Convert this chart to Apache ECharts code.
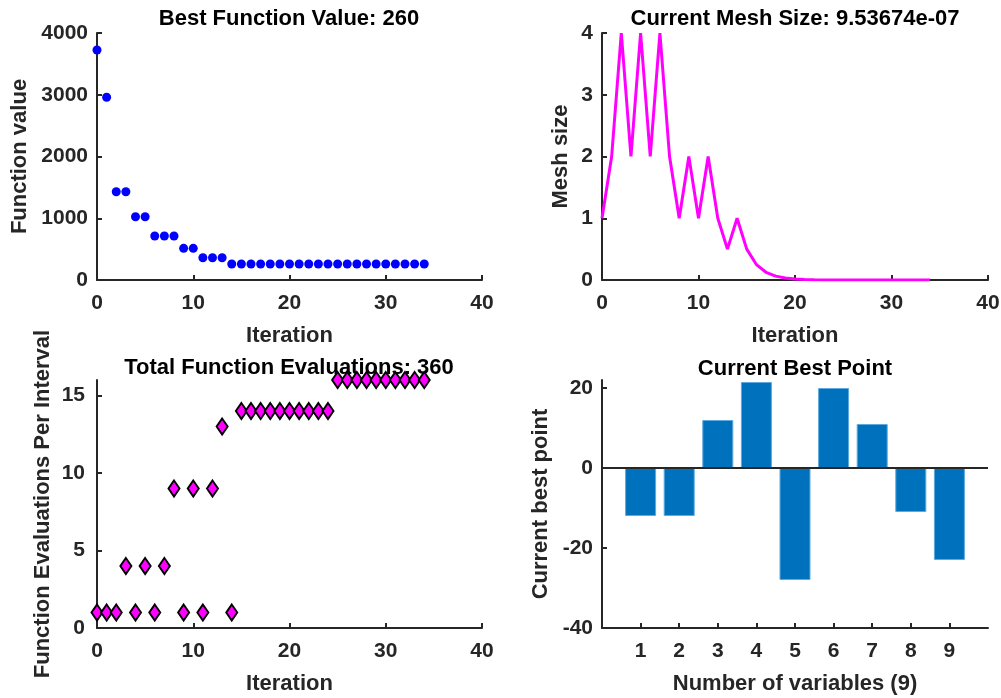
<!DOCTYPE html>
<html>
<head>
<meta charset="utf-8">
<script src="https://cdn.jsdelivr.net/npm/echarts@6/dist/echarts.min.js"></script>
<style>
  html, body { margin: 0; padding: 0; background: #fff; }
  #main { width: 1001px; height: 698px; }
</style>
</head>
<body>
<div id="main"></div>
<script>
// iterations 0..34
const iterations = [0, 1, 2, 3, 4, 5, 6, 7, 8, 9, 10, 11, 12, 13, 14, 15, 16, 17, 18, 19, 20,
  21, 22, 23, 24, 25, 26, 27, 28, 29, 30, 31, 32, 33, 34];
// best function value per iteration
const bestValues = [3725, 2960, 1430, 1430, 1025, 1025, 712, 712, 712, 513, 513, 361, 361, 361,
  260, 260, 260, 260, 260, 260, 260, 260, 260, 260, 260, 260, 260, 260, 260, 260, 260, 260, 260, 260, 260];
// mesh size per iteration
const meshSizes = [1, 2, 4, 2, 4, 2, 4, 2, 1, 2, 1, 2, 1, 0.5, 1, 0.5, 0.25, 0.125, 0.0625, 0.03125,
  0.015625, 0.0078125, 0.00390625, 0.001953125, 0.0009765625, 0.00048828125, 0.000244140625,
  0.0001220703125, 0.00006103515625, 0.000030517578125, 0.0000152587890625, 0.00000762939453125,
  0.000003814697265625, 0.0000019073486328125, 0.00000095367431640625];
// function evaluations per interval
const funcEvals = [1, 1, 1, 4, 1, 4, 1, 4, 9, 1, 9, 1, 9, 13, 1, 14, 14, 14, 14, 14, 14, 14, 14, 14, 14,
  16, 16, 16, 16, 16, 16, 16, 16, 16, 16];
// current best point
const variableIdx = [1, 2, 3, 4, 5, 6, 7, 8, 9];
const bestPoint = [-12, -12, 12, 21.5, -28, 20, 11, -11, -23];

const titles = ['Best Function Value: 260', 'Current Mesh Size: 9.53674e-07',
  'Total Function Evaluations: 360', 'Current Best Point'];

const FONT = 'Liberation Sans, Arial, Helvetica, sans-serif';
const AX = '#262626';

const grids = [
  { left: 97, top: 33, width: 385, height: 247 },
  { left: 602, top: 33, width: 386, height: 247 },
  { left: 97, top: 380, width: 385, height: 248 },
  { left: 602, top: 380, width: 386, height: 248 },
];

function axisBase(extra) {
  return Object.assign({
    axisLine: { show: true, onZero: false, lineStyle: { color: AX, width: 2 } },
    axisTick: { show: true, inside: true, length: 5, lineStyle: { color: AX, width: 2 } },
    splitLine: { show: false },
    axisLabel: { color: AX, fontFamily: FONT, fontWeight: 'bold', fontSize: 21, formatter: v => String(v) },
    nameLocation: 'middle',
    nameTextStyle: { color: AX, fontFamily: FONT, fontWeight: 'bold', fontSize: 22 },
  }, extra);
}

function xAxis(gi, name, extra) {
  const a = axisBase(Object.assign({ type: 'value', gridIndex: gi, name: name, nameGap: 45 }, extra));
  a.axisLabel.margin = 13;
  return a;
}
function yAxis(gi, name, gap, extra, margin) {
  const a = axisBase(Object.assign({ type: 'value', gridIndex: gi, name: name, nameGap: gap }, extra));
  a.axisLabel.margin = margin || 9;
  return a;
}

const chart = echarts.init(document.getElementById('main'));

const xs = [
  xAxis(0, 'Iteration', { min: 0, max: 40, interval: 10 }),
  xAxis(1, 'Iteration', { min: 0, max: 40, interval: 10 }),
  xAxis(2, 'Iteration', { min: 0, max: 40, interval: 10 }),
  xAxis(3, 'Number of variables (9)', { min: 0, max: 10 }),
];
xs[3].axisLabel.customValues = variableIdx;
xs[3].axisTick.customValues = variableIdx;

const ys = [
  yAxis(0, 'Function value', 66, { min: 0, max: 4000, interval: 1000 }),
  yAxis(1, 'Mesh size', 30, { min: 0, max: 4, interval: 1 }),
  yAxis(2, 'Function Evaluations Per Interval', 43, { min: 0, max: 16 }, 12),
  yAxis(3, 'Current best point', 50, { min: -40, max: 22 }),
];
ys[2].axisLabel.customValues = [0, 5, 10, 15];
ys[2].axisTick.customValues = [0, 5, 10, 15];
ys[3].axisLabel.customValues = [-40, -20, 0, 20];
ys[3].axisTick.customValues = [-40, -20, 0, 20];

const titleCenters = [[289, 8], [795, 8], [289, 357], [795, 358]];

const option = {
  animation: false,
  backgroundColor: '#fff',
  title: titles.map((t, i) => ({
    text: t,
    left: titleCenters[i][0],
    top: titleCenters[i][1],
    textAlign: 'center',
    padding: 0,
    textStyle: { color: '#000', fontFamily: FONT, fontWeight: 'bold', fontSize: 22 },
  })),
  grid: grids.map(g => Object.assign({ containLabel: false, outerBoundsMode: 'none' }, g)),
  xAxis: xs,
  yAxis: ys,
  series: [
    {
      type: 'scatter',
      xAxisIndex: 0, yAxisIndex: 0,
      symbol: 'circle',
      symbolSize: 9,
      clip: false,
      itemStyle: { color: '#0000ff', opacity: 1 },
      data: iterations.map((it, i) => [it, bestValues[i]]),
    },
    {
      type: 'line',
      xAxisIndex: 1, yAxisIndex: 1,
      showSymbol: false,
      symbol: 'none',
      lineStyle: { color: '#ff00ff', width: 3 },
      data: iterations.map((it, i) => [it, meshSizes[i]]),
    },
    {
      type: 'scatter',
      xAxisIndex: 2, yAxisIndex: 2,
      symbol: 'diamond',
      symbolSize: [11, 16],
      clip: false,
      itemStyle: { color: '#ff00ff', borderColor: '#000', borderWidth: 2, opacity: 1 },
      data: iterations.map((it, i) => [it, funcEvals[i]]),
    },
    {
      type: 'bar',
      xAxisIndex: 3, yAxisIndex: 3,
      barWidth: 31,
      itemStyle: { color: '#0072bd', borderColor: '#5ea9dd', borderWidth: 1 },
      data: variableIdx.map((v, i) => [v, bestPoint[i]]),
      markLine: {
        silent: true,
        symbol: 'none',
        label: { show: false },
        lineStyle: { color: AX, width: 2, type: 'solid' },
        data: [{ yAxis: 0 }],
      },
    },
  ],
};

chart.setOption(option);
</script>
</body>
</html>
